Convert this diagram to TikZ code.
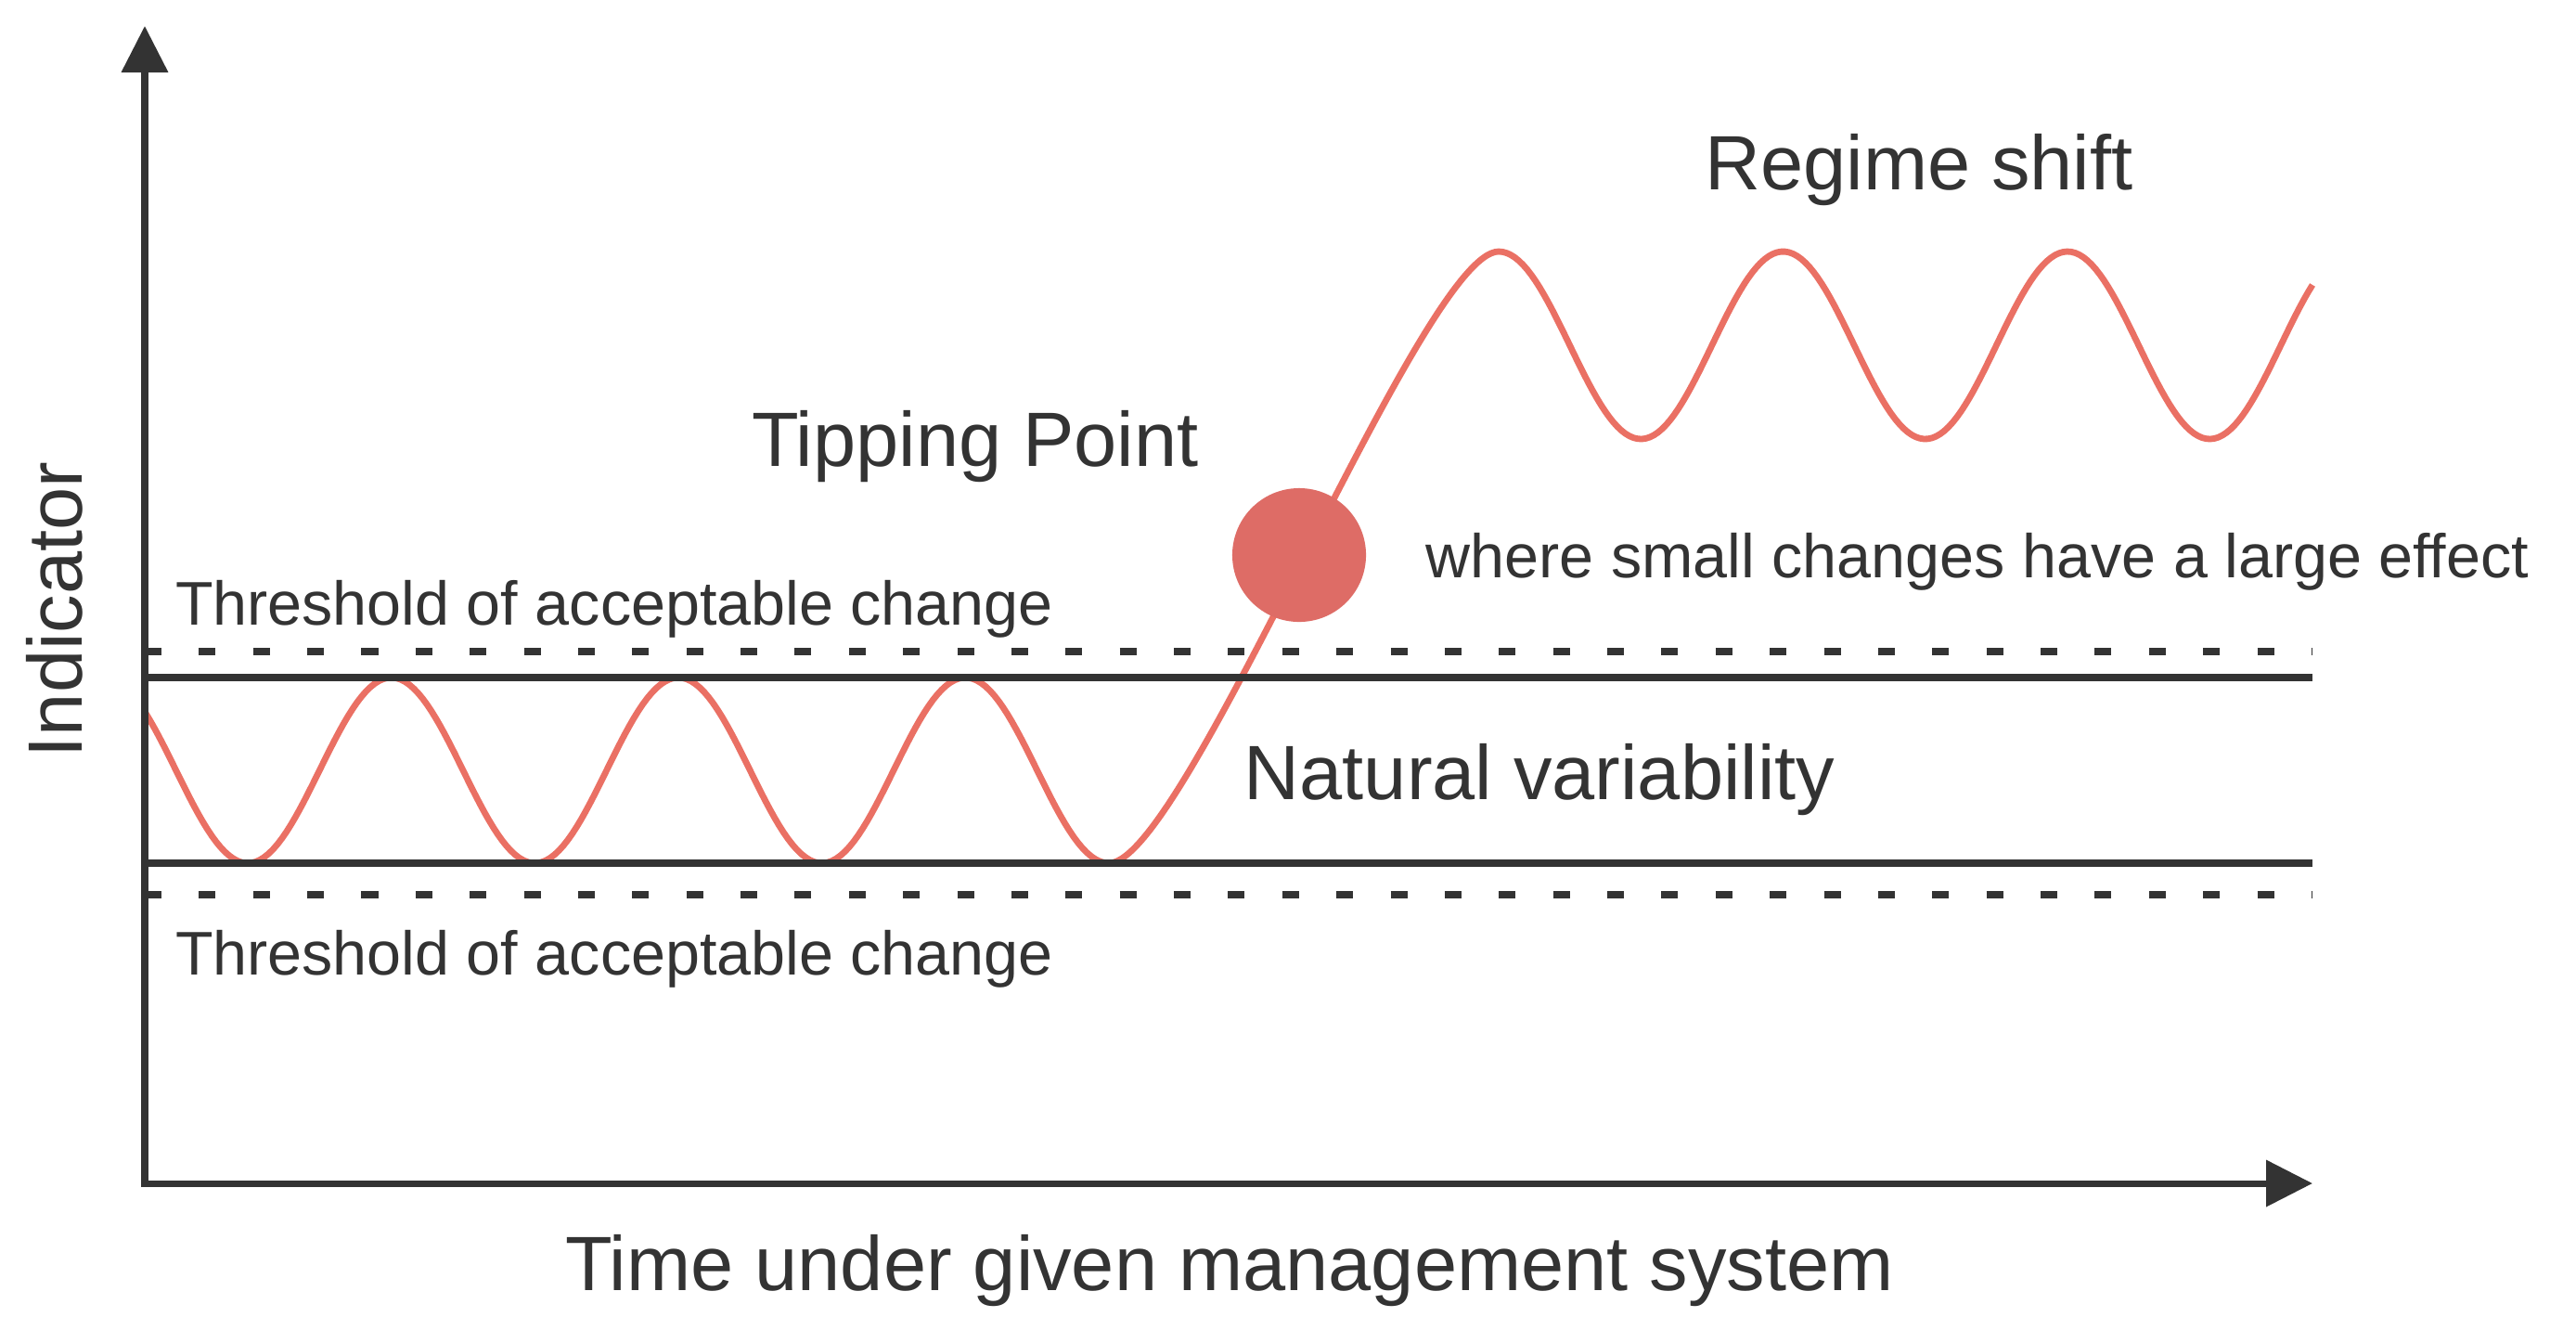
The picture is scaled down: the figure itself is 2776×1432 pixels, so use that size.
\documentclass[tikz,border=0pt]{standalone}
\usepackage{fontspec}
\setmainfont{Liberation Sans}
\usetikzlibrary{arrows.meta}
\definecolor{ink}{RGB}{51,51,51}
\definecolor{wavered}{RGB}{234,112,100}
\definecolor{dotred}{RGB}{222,108,102}
\begin{document}
\begin{tikzpicture}[x=0.01cm,y=-0.01cm,
  axis/.style={draw=ink,line width=0.07cm},
  bound/.style={draw=ink,line width=0.08cm},
  dotline/.style={draw=ink,line width=0.08cm,dash pattern=on 0.18cm off 0.4034cm},
  wave/.style={draw=wavered,line width=0.068cm,line join=round},
  bigtxt/.style={text=ink,inner sep=0pt,anchor=base,font=\fontsize{23.6pt}{28pt}\selectfont},
  smalltxt/.style={text=ink,inner sep=0pt,anchor=base,font=\fontsize{18.9pt}{22pt}\selectfont},
  tipdot/.style={circle,fill=dotred,minimum size=1.44cm,inner sep=0pt}
]
\useasboundingbox (0,0) rectangle (2776,1432);
\fill[white] (0,0) rectangle (2776,1432);

% coordinates
\coordinate (O) at (156,1275);
\coordinate (ytop) at (156,28);
\coordinate (xend) at (2492,1275);
\coordinate (upL) at (156,730);
\coordinate (upR) at (2492,730);
\coordinate (loL) at (156,930);
\coordinate (loR) at (2492,930);
\coordinate (dupL) at (156,702);
\coordinate (dupR) at (2492,702);
\coordinate (dloL) at (156,964);
\coordinate (dloR) at (2492,964);

% wave
\draw[wave] plot[domain=157:1195,samples=220] (\x,{830+100*cos((\x-267)/309.33*360)})
  .. controls (1277,930) and (1533,271) .. (1615,271)
  -- plot[domain=1615:2492,samples=200] (\x,{372-101*cos((\x-1615)/306.5*360)});

% bounds
\draw[bound] (upL) -- (upR);
\draw[bound] (loL) -- (loR);
\draw[dotline] (dupL) -- (dupR);
\draw[dotline] (dloL) -- (dloR);

% axes
\draw[axis,{Triangle[length=0.5cm,width=0.49cm]}-{Triangle[length=0.5cm,width=0.49cm]}] (ytop) -- (O) -- (xend);

% tipping point
\node[tipdot] (tp) at (1400,598) {};

% labels
\node[bigtxt] (regime) at (2068,204) {Regime shift};
\node[bigtxt] (tipping) at (1051,502) {Tipping Point};
\node[smalltxt] (where) at (2131,622) {where small changes have a large effect};
\node[smalltxt] (thrU) at (662,673) {Threshold of acceptable change};
\node[smalltxt] (thrL) at (662,1050) {Threshold of acceptable change};
\node[bigtxt] (natvar) at (1659,861) {Natural variability};
\node[bigtxt] (time) at (1325,1390) {Time under given management system};
\node[bigtxt,rotate=90] (ind) at (88,657) {Indicator};
\end{tikzpicture}
\end{document}
